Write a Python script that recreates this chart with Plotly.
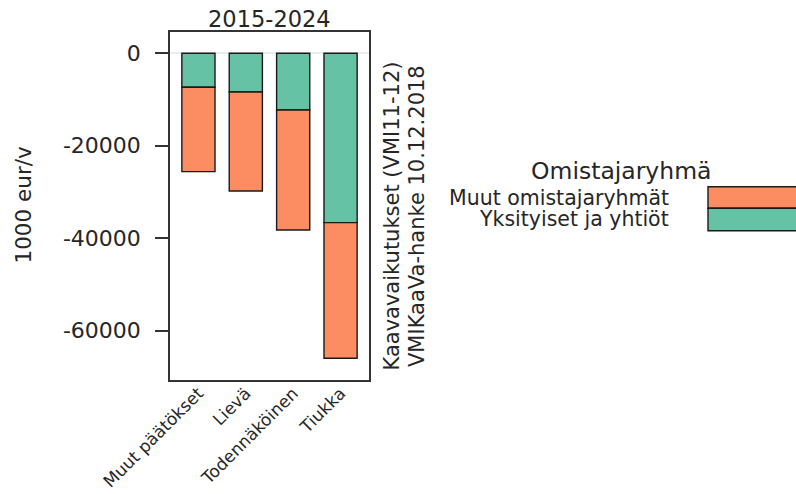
import plotly.graph_objects as go

# ---- data ----
categories = ["Muut päätökset", "Lievä", "Todennäköinen", "Tiukka"]
yksityiset_ja_yhtiot = [-7350, -8370, -12260, -36630]
muut_omistajaryhmat = [-18250, -21400, -25950, -29320]
series_names = ["Muut omistajaryhmät", "Yksityiset ja yhtiöt"]
y_ticks = [0, -20000, -40000, -60000]

ORANGE = "#FC8D62"
GREEN = "#66C2A5"
TXT = "#262626"
FONT = "DejaVu Sans"

W, H = 796, 494
L, R, T, B = 170, 369, 32, 380  # plot area in pixels


def px(x):
    return (x - L) / (R - L)


def py(y):
    return (B - y) / (B - T)


fig = go.Figure()
fig.add_trace(go.Bar(x=categories, y=yksityiset_ja_yhtiot, name=series_names[1],
                     marker=dict(color=GREEN, line=dict(color="#1a1a1a", width=1.4)),
                     showlegend=False))
fig.add_trace(go.Bar(x=categories, y=muut_omistajaryhmat, name=series_names[0],
                     marker=dict(color=ORANGE, line=dict(color="#1a1a1a", width=1.4)),
                     showlegend=False))

fig.update_layout(
    width=W, height=H,
    margin=dict(l=L, r=W - R, t=T, b=H - B, pad=0, autoexpand=False),
    barmode="relative", bargap=0.3,
    paper_bgcolor="white", plot_bgcolor="white",
    font=dict(family=FONT, size=21, color=TXT),
    showlegend=False,
)
fig.update_xaxes(range=[-0.6, 3.6], showline=True, mirror=True, linecolor="#333",
                 linewidth=1.5, ticks="", showgrid=False, zeroline=False, automargin=False,
                 tickangle=-45, ticklabelstandoff=-5, tickfont=dict(size=17, color=TXT))
fig.update_yaxes(range=[-70660, 4607], showline=True, mirror=True, linecolor="#333",
                 linewidth=1.5, ticks="outside", ticklen=13, tickwidth=1.5, automargin=False,
                 tickcolor="#333", tickvals=y_ticks, ticktext=[str(v) for v in y_ticks],
                 showgrid=False, zeroline=True, zerolinecolor="#ececec", zerolinewidth=2,
                 ticklabelstandoff=10, tickfont=dict(size=22, color=TXT))

ann = []
# title
ann.append(dict(text="2015-2024", x=0.5, y=py(19), xref="paper", yref="paper",
                showarrow=False, xanchor="center", yanchor="middle",
                font=dict(size=22.5, color=TXT)))
# y axis title
ann.append(dict(text="1000 eur/v", x=px(22.5), y=py(205), xref="paper", yref="paper",
                showarrow=False, textangle=-90, xanchor="center", yanchor="middle",
                font=dict(size=21.5, color=TXT)))
# right caption
ann.append(dict(text="Kaavavaikutukset (VMI11-12)", x=px(391), y=py(216.5), xref="paper",
                yref="paper", showarrow=False, textangle=-90, xanchor="center",
                yanchor="middle", font=dict(size=21, color=TXT)))
ann.append(dict(text="VMIKaaVa-hanke 10.12.2018", x=px(416.5), y=py(216.5), xref="paper",
                yref="paper", showarrow=False, textangle=-90, xanchor="center",
                yanchor="middle", font=dict(size=21, color=TXT)))
# legend
ann.append(dict(text="Omistajaryhmä", x=px(621), y=py(171), xref="paper", yref="paper",
                showarrow=False, xanchor="center", yanchor="middle",
                font=dict(size=23.5, color=TXT)))
ann.append(dict(text=series_names[0], x=px(671), y=py(197.5), xref="paper", yref="paper",
                showarrow=False, xanchor="right", yanchor="middle",
                font=dict(size=20.5, color=TXT)))
ann.append(dict(text=series_names[1], x=px(671), y=py(219.5), xref="paper", yref="paper",
                showarrow=False, xanchor="right", yanchor="middle",
                font=dict(size=20.5, color=TXT)))
fig.update_layout(annotations=ann)

shapes = [
    dict(type="rect", xref="paper", yref="paper", x0=px(708), x1=px(800),
         y0=py(208.3), y1=py(186.7), fillcolor=ORANGE, line=dict(color="#1a1a1a", width=1.4)),
    dict(type="rect", xref="paper", yref="paper", x0=px(708), x1=px(800),
         y0=py(230.7), y1=py(208.3), fillcolor=GREEN, line=dict(color="#1a1a1a", width=1.4)),
]
fig.update_layout(shapes=shapes)

fig.write_html("out.html", config={"displayModeBar": False},
               post_script="document.body.style.margin='0';document.body.style.overflow='hidden';")
